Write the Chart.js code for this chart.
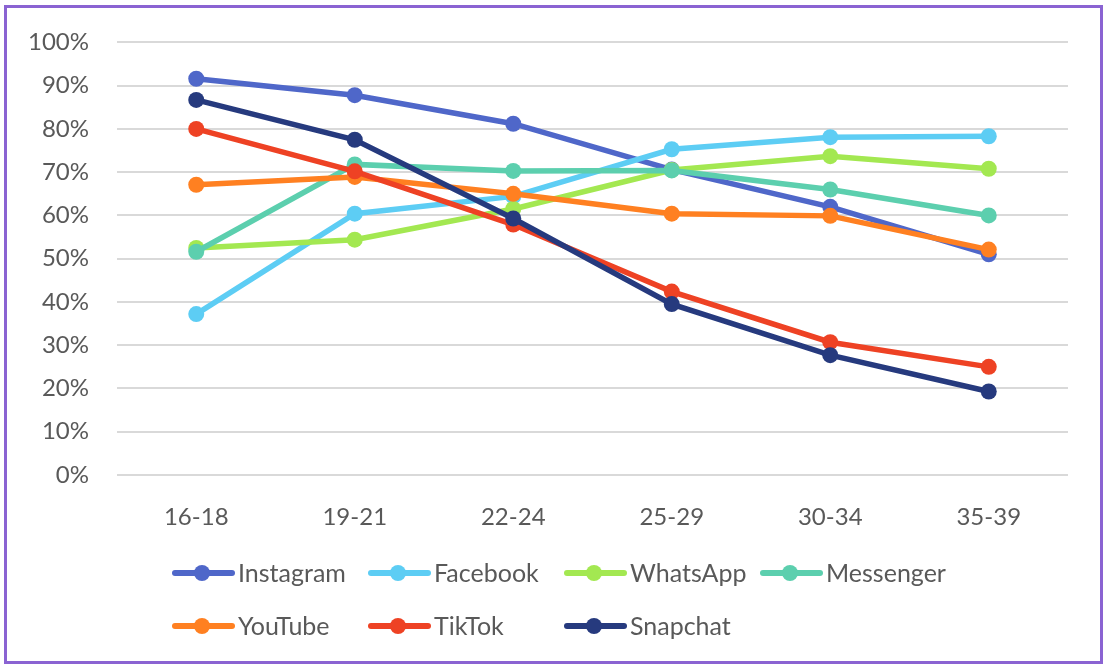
<!DOCTYPE html>
<html>
<head>
<meta charset="utf-8">
<script src="https://cdn.jsdelivr.net/npm/chart.js@4"></script>
<style>
  html, body { margin: 0; padding: 0; background: #fff; }
  body { width: 1104px; height: 666px; position: relative; overflow: hidden; font-family: Lato, sans-serif; }
  #frame { position: absolute; left: 4px; top: 5px; width: 1093px; height: 653px; border: 3px solid #8a63d2; box-sizing: content-box; }
  #chartBox { position: absolute; left: 0; top: 0; width: 1104px; height: 666px; }
  #legend { position: absolute; left: 172px; top: 546px; width: 800px; }
  .legend-row { display: flex; height: 53px; align-items: center; }
  .legend-item { width: 196px; display: flex; align-items: center; }
  .legend-icon { position: relative; width: 63px; height: 16px; }
  .legend-icon .ln { position: absolute; left: 0; right: 0; top: 5px; height: 6px; border-radius: 3px; }
  .legend-icon .dot { position: absolute; left: 22px; top: 0; width: 16px; height: 16px; border-radius: 50%; }
  .legend-text { margin-left: 3px; font-size: 25px; color: #595959; line-height: 1; }
</style>
</head>
<body>
<div id="chartBox"><canvas id="chart" width="1104" height="666"></canvas></div>
<div id="frame"></div>
<div id="legend"></div>
<script>
// 類別與數值
const categories = ['16-18', '19-21', '22-24', '25-29', '30-34', '35-39'];
const seriesNames = ['Instagram', 'Facebook', 'WhatsApp', 'Messenger', 'YouTube', 'TikTok', 'Snapchat'];
const seriesColors = ['#4f67c9', '#5dcdf4', '#a3e851', '#5ccfae', '#ff8021', '#ee4224', '#263a7e'];

const instagram = [91.6, 87.8, 81.2, 70.6, 62.0, 51.0];
const facebook  = [37.2, 60.4, 64.4, 75.3, 78.1, 78.3];
const whatsapp  = [52.5, 54.4, 61.5, 70.5, 73.7, 70.8];
const messenger = [51.6, 71.8, 70.3, 70.4, 66.0, 60.0];
const youtube   = [67.1, 68.9, 65.0, 60.4, 59.9, 52.1];
const tiktok    = [80.0, 70.2, 57.9, 42.4, 30.7, 25.0];
const snapchat  = [86.7, 77.5, 59.3, 39.5, 27.7, 19.3];

const seriesValues = [instagram, facebook, whatsapp, messenger, youtube, tiktok, snapchat];

const yTicks = { min: 0, max: 100, step: 10 };

const textColor = '#595959';
const fontFamily = 'Lato, sans-serif';

const datasets = seriesNames.map((name, i) => ({
  label: name,
  data: seriesValues[i],
  borderColor: seriesColors[i],
  backgroundColor: seriesColors[i],
  pointBackgroundColor: seriesColors[i],
  pointBorderColor: seriesColors[i],
  borderWidth: 5.5,
  pointRadius: 8,
  pointBorderWidth: 0,
  tension: 0,
  fill: false,
  // 後面的系列畫在上層
  order: seriesNames.length - 1 - i
}));

new Chart(document.getElementById('chart'), {
  type: 'line',
  data: { labels: categories, datasets: datasets },
  options: {
    responsive: false,
    animation: false,
    layout: { padding: { top: 42, right: 36, left: 0, bottom: 0 } },
    plugins: {
      legend: { display: false },
      tooltip: { enabled: false }
    },
    scales: {
      x: {
        offset: true,
        grid: { display: false, drawTicks: false },
        border: { display: false },
        ticks: {
          color: textColor,
          padding: 28,
          font: { family: fontFamily, size: 24 }
        },
        afterFit(scale) { scale.height = 666 - 475; }
      },
      y: {
        min: yTicks.min,
        max: yTicks.max,
        grid: { color: '#d9d9d9', lineWidth: 2, drawTicks: false },
        border: { display: false },
        ticks: {
          stepSize: yTicks.step,
          color: textColor,
          padding: 28,
          font: { family: fontFamily, size: 24 },
          callback: v => v + '%'
        },
        afterFit(scale) { scale.width = 117; }
      }
    }
  }
});

// 圖例（固定欄寬，兩列）
const legendRows = [[0, 1, 2, 3], [4, 5, 6]];
document.getElementById('legend').innerHTML = legendRows.map(row =>
  '<div class="legend-row">' + row.map(i => `
    <div class="legend-item">
      <span class="legend-icon">
        <span class="ln" style="background:${seriesColors[i]}"></span>
        <span class="dot" style="background:${seriesColors[i]}"></span>
      </span>
      <span class="legend-text">${seriesNames[i]}</span>
    </div>`).join('') + '</div>'
).join('');
</script>
</body>
</html>
